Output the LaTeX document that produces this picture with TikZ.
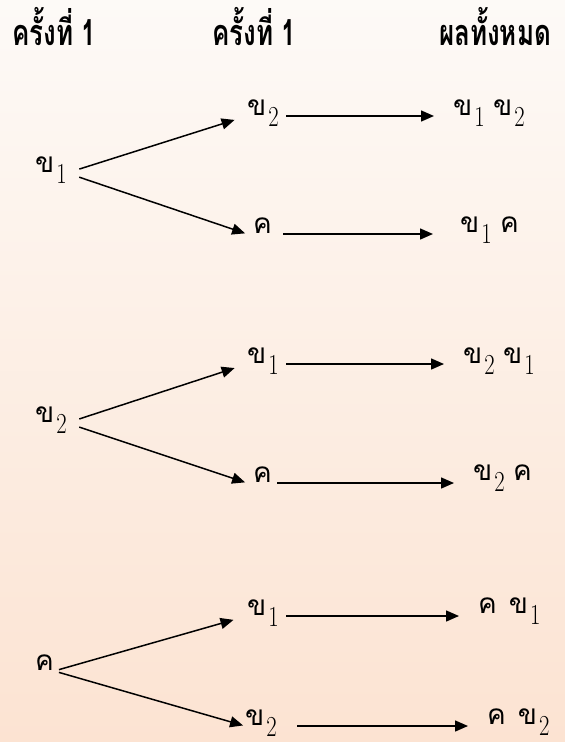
\documentclass[tikz,border=0pt]{standalone}
\usepackage{fontspec}
\usetikzlibrary{arrows.meta}
\newfontfamily\thai[Script=Thai]{Loma}
\newfontfamily\thaihead[Script=Thai,FakeStretch=0.72]{Loma}
\newcommand{\kh}[1]{{\thai ข}\kern2pt\raisebox{-11pt}{\scalebox{0.78}[1]{\fontsize{29}{32}\selectfont #1}}}
\newcommand{\kk}{{\thai ค}}
\definecolor{bgtop}{HTML}{FDFAF7}
\definecolor{bgbot}{HTML}{FCE3D2}

\begin{document}
\begin{tikzpicture}[x=1pt,y=-1pt,>={Triangle[length=13pt,width=11pt]},
  lbl/.style={anchor=base west,inner sep=0pt,text height=6pt,text depth=8pt,font=\fontsize{28}{30}\selectfont},
  br/.style={lbl,text width=34pt},
  hd/.style={anchor=base west,inner sep=0pt,font=\fontsize{36}{40}\selectfont\thaihead\bfseries},
  arr/.style={->,line width=1.5pt},
  harr/.style={arr,shorten <=5pt,shorten >=19pt}]
\shade[top color=bgtop,bottom color=bgbot] (0,0) rectangle (565,742);
\useasboundingbox (0,0) rectangle (565,742);
% headers
\node[hd] (h1) at (12,45) {ครั้งที่ 1};
\node[hd] (h2) at (212,45) {ครั้งที่ 1};
\node[hd] (h3) at (439,45) {ผลทั้งหมด};
% first draw kh1
\node[lbl] (k1) at (35,172) {\kh1};
\node[br] (b11) at (247,115) {\kh2};
\node[br] (b12) at (247,233) {\kern6pt\kk};
\node[lbl] (r11) at (453,115) {\kh1\ \kh2};
\node[lbl] (r12) at (460,232) {\kh1\ \kk};
\draw[arr,shorten <=13pt,shorten >=13pt] (k1.east) -- (b11.west);
\draw[arr,shorten <=13pt,shorten >=2pt] (k1.east) -- (b12.west);
\draw[harr] (b11.east) -- (b11.east -| r11.west);
\draw[harr,shorten <=2pt,shorten >=27pt] (b12.east) -- (b12.east -| r12.west);
% first draw kh2
\node[lbl] (k2) at (35,422) {\kh2};
\node[br] (b21) at (247,363) {\kh1};
\node[br] (b22) at (247,482) {\kern6pt\kk};
\node[lbl] (r21) at (463,363) {\kh2\ \kh1};
\node[lbl] (r22) at (473,480) {\kh2\ \kk};
\draw[arr,shorten <=13pt,shorten >=13pt] (k2.east) -- (b21.west);
\draw[arr,shorten <=13pt,shorten >=2pt] (k2.east) -- (b22.west);
\draw[harr] (b21.east) -- (b21.east -| r21.west);
\draw[harr,shorten <=-4pt] (b22.east) -- (b22.east -| r22.west);
% first draw kh (ค)
\node[lbl] (k3) at (35,670) {\kk};
\node[br] (b31) at (247,615) {\kh1};
\node[br] (b32) at (245,725) {\kh2};
\node[lbl] (r31) at (478,613) {\kk\hspace{12pt}\kh1};
\node[lbl] (r32) at (487,724) {\kk\hspace{12pt}\kh2};
\draw[arr,shorten <=5pt,shorten >=14pt] (k3.east) -- (b31.west);
\draw[arr,shorten <=5pt,shorten >=2pt] (k3.east) -- (b32.west);
\draw[harr] (b31.east) -- (b31.east -| r31.west);
\draw[harr,shorten <=18pt] (b32.east) -- (b32.east -| r32.west);
\end{tikzpicture}
\end{document}
